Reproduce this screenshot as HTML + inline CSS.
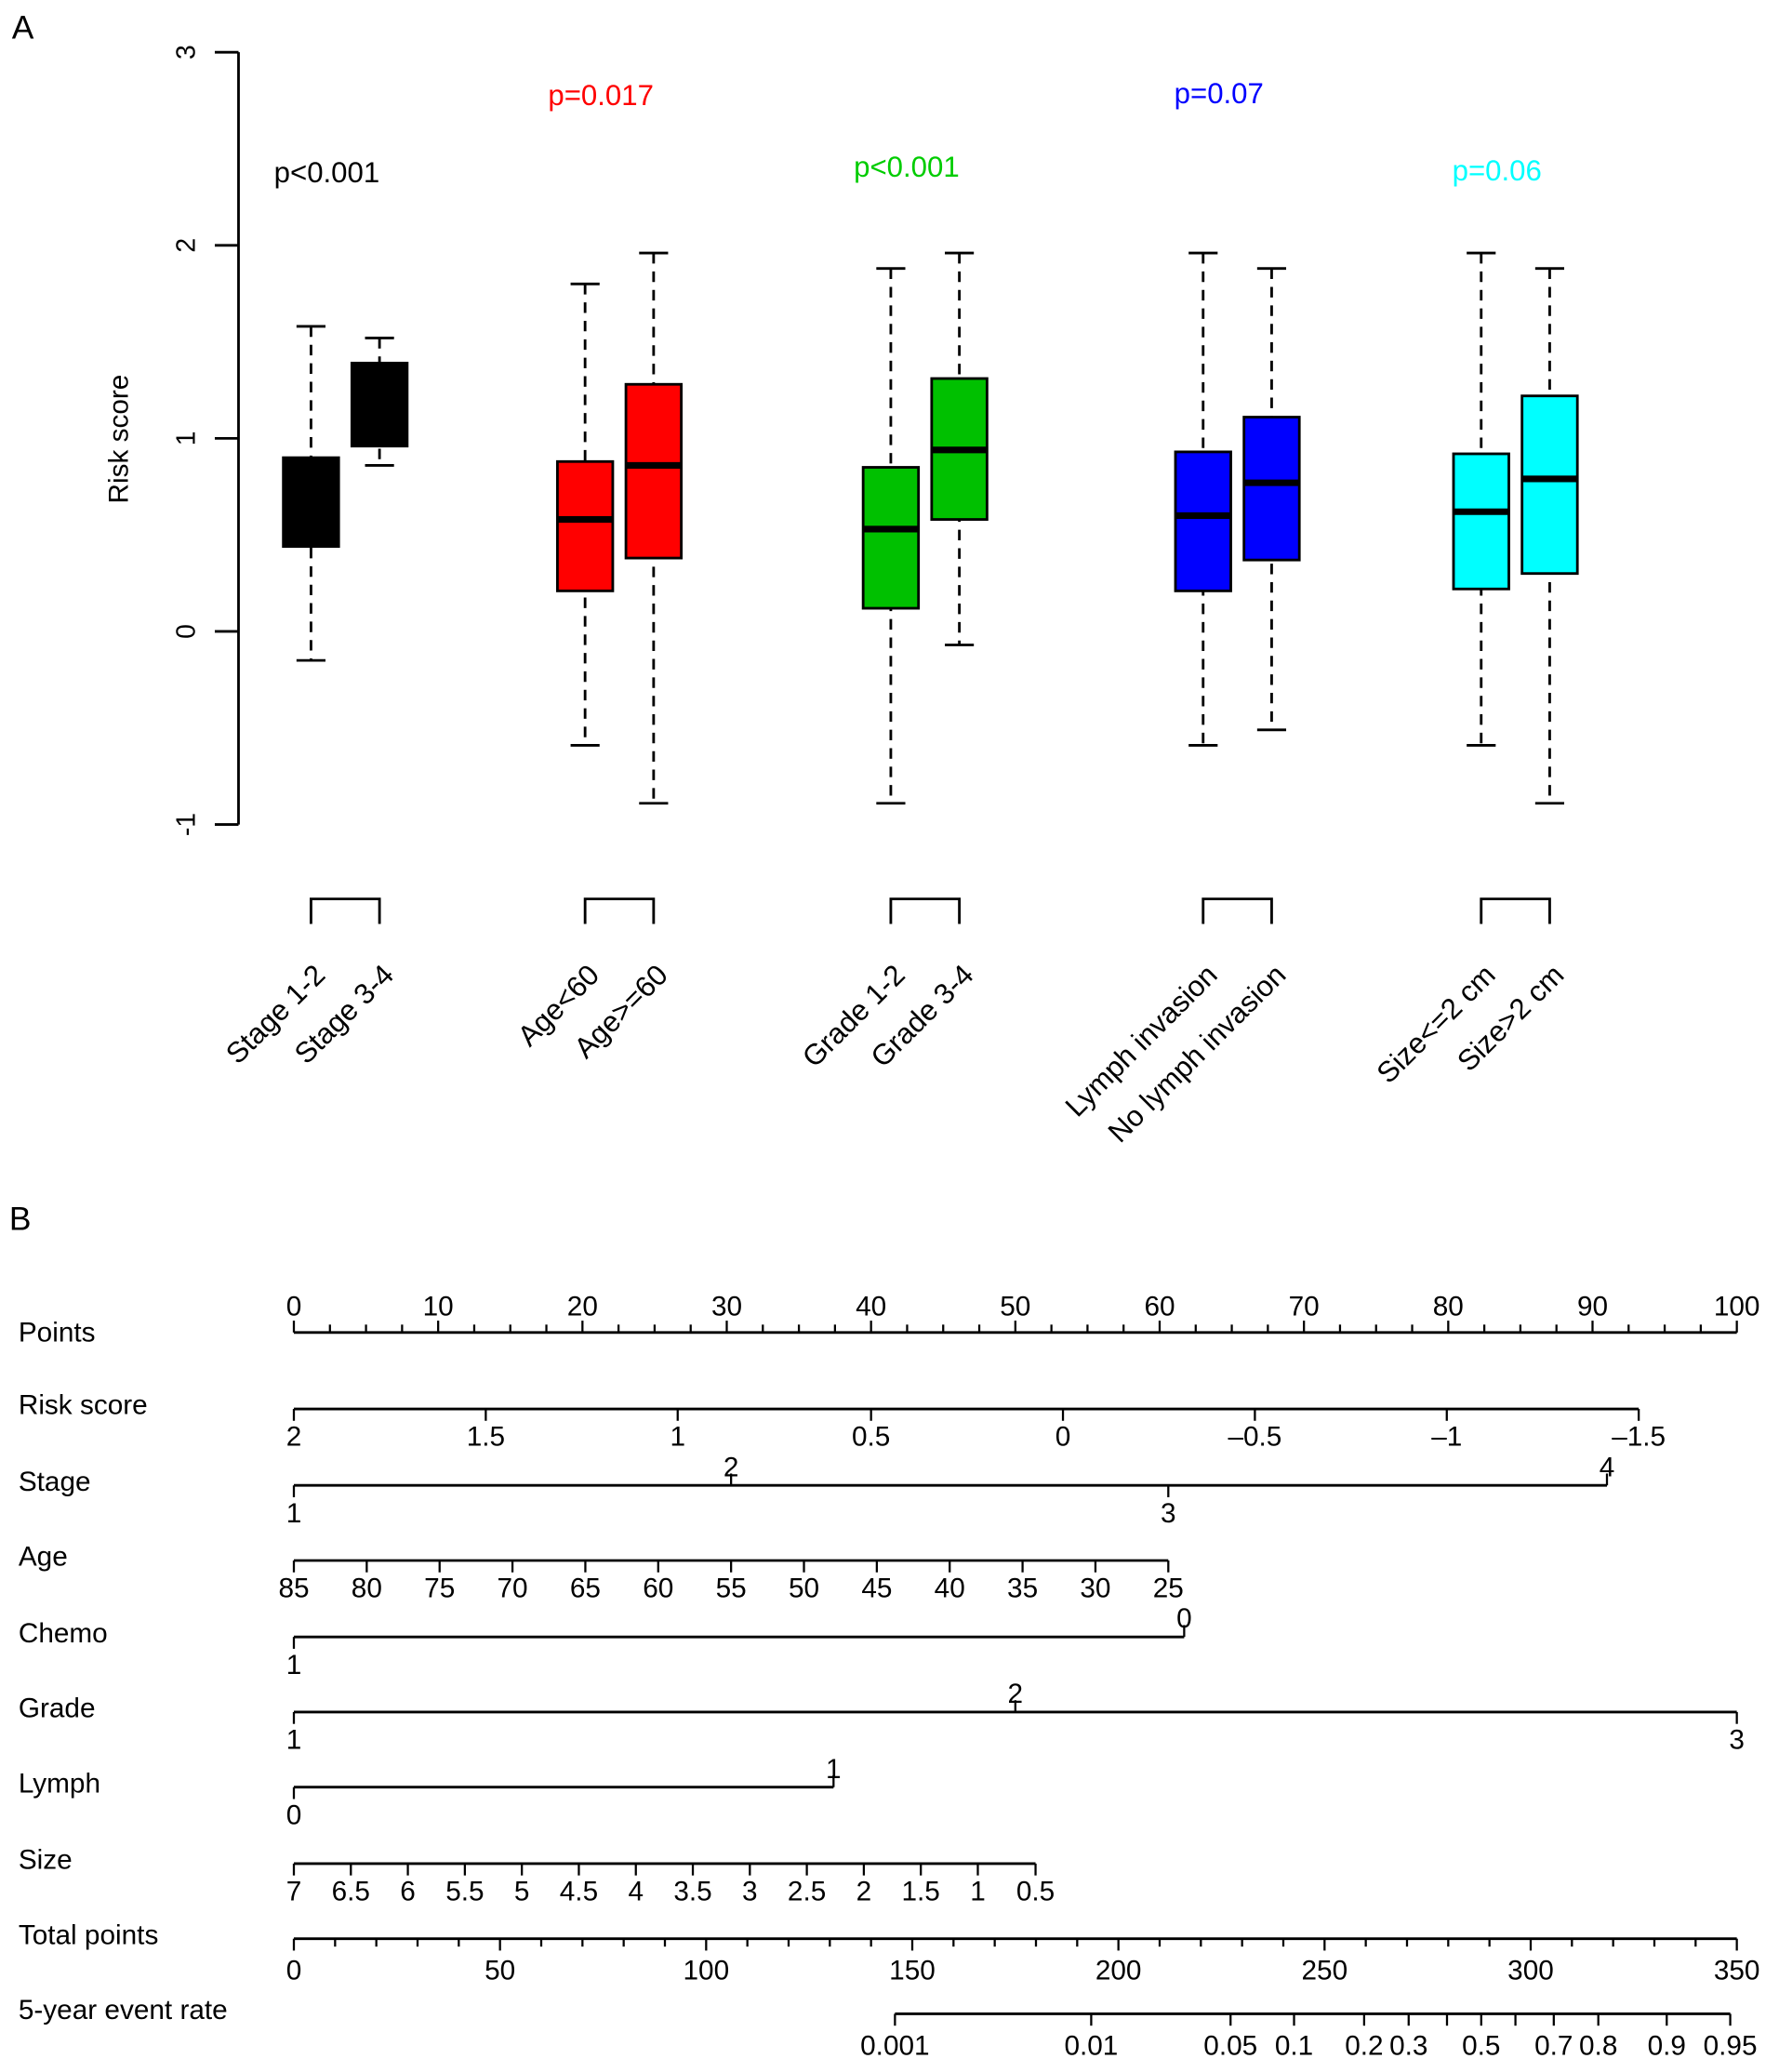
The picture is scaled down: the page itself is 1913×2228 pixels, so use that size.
<!DOCTYPE html>
<html><head><meta charset="utf-8"><title>Risk score boxplots and nomogram</title>
<style>
html,body{margin:0;padding:0;background:#fff;}
svg{display:block;}
text{font-family:"Liberation Sans",sans-serif;}
.nar{font-family:"Liberation Sans Narrow","Liberation Sans",sans-serif;}
</style></head>
<body>
<svg id="fig" xmlns="http://www.w3.org/2000/svg" width="1913" height="2228" viewBox="0 0 1350 1572">
  <text x="9" y="29" font-size="25">A</text>
  <text x="7" y="933" font-size="25">B</text>
  <g id="boxplot"></g>
  <g id="nomo"></g>
</svg>
<script>
// ---------- Panel A data ----------
const groupLabels = ["Stage 1-2","Stage 3-4","Age<60","Age>=60","Grade 1-2","Grade 3-4","Lymph invasion","No lymph invasion","Size<=2 cm","Size>2 cm"];
const whiskerLow = [-0.15,0.86,-0.59,-0.89,-0.89,-0.07,-0.59,-0.51,-0.59,-0.89];
const q1Values   = [0.44,0.96,0.21,0.38,0.12,0.58,0.21,0.37,0.22,0.30];
const medians    = [0.67,1.18,0.58,0.86,0.53,0.94,0.60,0.77,0.62,0.79];
const q3Values   = [0.90,1.39,0.88,1.28,0.85,1.31,0.93,1.11,0.92,1.22];
const whiskerHigh= [1.58,1.52,1.80,1.96,1.88,1.96,1.96,1.88,1.96,1.88];
const boxColors  = ["#000000","#000000","#ff0000","#ff0000","#00c000","#00c000","#0000ff","#0000ff","#00ffff","#00ffff"];
const pLabels = ["p<0.001","p=0.017","p<0.001","p=0.07","p=0.06"];
const pColors = ["#000000","#ff0000","#00cc00","#0000ff","#00ffff"];
const pHeights = [2.38,2.78,2.41,2.79,2.39];
const yTicks = [-1,0,1,2,3];

const NS="http://www.w3.org/2000/svg";
function mk(parent,tag,attrs,txt){const e=document.createElementNS(NS,tag);for(const k in attrs)e.setAttribute(k,attrs[k]);if(txt!==undefined)e.textContent=txt;parent.appendChild(e);return e;}

const yScale = v => 479 - 146.5*v;
const boxX = [236,288,444,496,676,728,913,965,1124,1176];
const bp = document.getElementById('boxplot');

let ax = mk(bp,'line',{x1:181,y1:yScale(3),x2:181,y2:yScale(-1),stroke:'#000','stroke-width':2});


yTicks.forEach(t=>{
  const tk=mk(bp,'line',{x1:163,y1:yScale(t),x2:181,y2:yScale(t),stroke:'#000','stroke-width':2});
  
  
  const tl=mk(bp,'text',{x:0,y:0,'font-size':20,'text-anchor':'middle',transform:`translate(148,${yScale(t)}) rotate(-90)`},String(t));
  
  
});
const yt=mk(bp,'text',{'font-size':21,'text-anchor':'middle',transform:'translate(97,333) rotate(-90)'},'Risk score');



const bw=42;
groupLabels.forEach((g,i)=>{
  const cx=boxX[i];
  const grp=mk(bp,'g',{});
  
  
  mk(grp,'line',{x1:cx,y1:yScale(whiskerHigh[i]),x2:cx,y2:yScale(whiskerLow[i]),stroke:'#000','stroke-width':2,'stroke-dasharray':'8,6'});
  mk(grp,'line',{x1:cx-11,y1:yScale(whiskerHigh[i]),x2:cx+11,y2:yScale(whiskerHigh[i]),stroke:'#000','stroke-width':2});
  mk(grp,'line',{x1:cx-11,y1:yScale(whiskerLow[i]),x2:cx+11,y2:yScale(whiskerLow[i]),stroke:'#000','stroke-width':2});
  mk(grp,'rect',{x:cx-bw/2,y:yScale(q3Values[i]),width:bw,height:yScale(q1Values[i])-yScale(q3Values[i]),fill:boxColors[i],stroke:'#000','stroke-width':2});
  mk(grp,'line',{x1:cx-bw/2,y1:yScale(medians[i]),x2:cx+bw/2,y2:yScale(medians[i]),stroke:'#000','stroke-width':5});
  const lb=mk(bp,'text',{'font-size':22,'text-anchor':'end',transform:`translate(${cx+12},741) rotate(-45)`},g);
  
  
});
for(let k=0;k<5;k++){
  const a=boxX[2*k],b=boxX[2*k+1];
  const br=mk(bp,'path',{d:`M${a},701 V682 H${b} V701`,fill:'none',stroke:'#000','stroke-width':2});
  
  
  const pt=mk(bp,'text',{x:(a+b)/2-14,y:yScale(pHeights[k])+8,'font-size':22,'text-anchor':'middle',fill:pColors[k]},pLabels[k]);
  
  
}

// ---------- Panel B data (nomogram) ----------
const rowNames = ["Points","Risk score","Stage","Age","Chemo","Grade","Lymph","Size","Total points","5-year event rate"];
const riskValues = [2,1.5,1,0.5,0,-0.5,-1,-1.5];
const riskPoints = [0,13.3,26.6,40.0,53.3,66.6,79.9,93.2];
const stageValues = [1,2,3,4];
const stagePoints = [0,30.3,60.6,91.0];
const stageAbove = [false,true,false,true];
const ageValues = [85,80,75,70,65,60,55,50,45,40,35,30,25];
const agePoints = [0,5.05,10.1,15.15,20.2,25.25,30.3,35.35,40.4,45.45,50.5,55.55,60.6];
const chemoValues = [1,0];
const chemoPoints = [0,61.7];
const chemoAbove = [false,true];
const gradeValues = [1,2,3];
const gradePoints = [0,50,100];
const gradeAbove = [false,true,false];
const lymphValues = [0,1];
const lymphPoints = [0,37.4];
const lymphAbove = [false,true];
const sizeValues = [7,6.5,6,5.5,5,4.5,4,3.5,3,2.5,2,1.5,1,0.5];
const sizePoints = [0,3.95,7.9,11.85,15.8,19.75,23.7,27.65,31.6,35.55,39.5,43.45,47.4,51.4];
const totalTicks = [0,50,100,150,200,250,300,350];
const eventRates = [0.001,0.01,0.05,0.1,0.2,0.3,0.4,0.5,0.6,0.7,0.8,0.9,0.95];
const eventTotals = [145.8,193.4,227.2,242.6,259.6,270.4,279.7,288.0,296.3,305.6,316.4,333.0,348.4];
const eventShown = [true,true,true,true,true,true,false,true,false,true,true,true,true];

const X0=223, X1=1318;
const px = p => X0 + (X1-X0)*p/100;
const tx = t => X0 + (X1-X0)*t/350;
const rowY = [1011,1069,1127,1184,1242,1299,1356,1414,1471,1528];
const nm=document.getElementById('nomo');
const FS=21;

rowNames.forEach((n,i)=>{
  const t=mk(nm,'text',{x:14,y:rowY[i]+(i===0?7:4),'font-size':FS,class:'nar'},n);
  
  
});
function hline(y,xa,xb,name){const l=mk(nm,'line',{x1:xa,y1:y,x2:xb,y2:y,stroke:'#000','stroke-width':2});
  
  }
function tick(x,y,len){mk(nm,'line',{x1:x,y1:y,x2:x,y2:y+len,stroke:'#000','stroke-width':1.6});}
function lab(x,y,s){const t=mk(nm,'text',{x:x,y:y,'font-size':FS,'text-anchor':'middle',class:'nar'},s);
  
  }

hline(rowY[0],px(0),px(100),'points-axis');
for(let p=0;p<=100;p+=2.5){tick(px(p),rowY[0],p%10===0?-9:-6);}
for(let p=0;p<=100;p+=10){lab(px(p),rowY[0]-13,String(p));}
function scale(row,values,points,above,name){
  const y=rowY[row];
  hline(y,px(points[0]),px(points[points.length-1]),name);
  values.forEach((v,i)=>{
    const up=above?above[i]:false;
    tick(px(points[i]),y,up?-9:9);
    lab(px(points[i]),up?y-7:y+28,String(v).replace('-','\u2013'));
  });
}
scale(1,riskValues,riskPoints,null,'risk-score-axis');
scale(2,stageValues,stagePoints,stageAbove,'stage-axis');
scale(3,ageValues,agePoints,null,'age-axis');
scale(4,chemoValues,chemoPoints,chemoAbove,'chemo-axis');
scale(5,gradeValues,gradePoints,gradeAbove,'grade-axis');
scale(6,lymphValues,lymphPoints,lymphAbove,'lymph-axis');
scale(7,sizeValues,sizePoints,null,'size-axis');
hline(rowY[8],tx(0),tx(350),'total-points-axis');
for(let t=0;t<=350;t+=10){tick(tx(t),rowY[8],t%50===0?9:6);}
totalTicks.forEach(t=>lab(tx(t),rowY[8]+31,String(t)));
hline(rowY[9],tx(eventTotals[0]),tx(eventTotals[eventTotals.length-1]),'event-rate-axis');
eventRates.forEach((r,i)=>{tick(tx(eventTotals[i]),rowY[9],9);if(eventShown[i])lab(tx(eventTotals[i]),rowY[9]+31,String(r));});
</script>
</body></html>
